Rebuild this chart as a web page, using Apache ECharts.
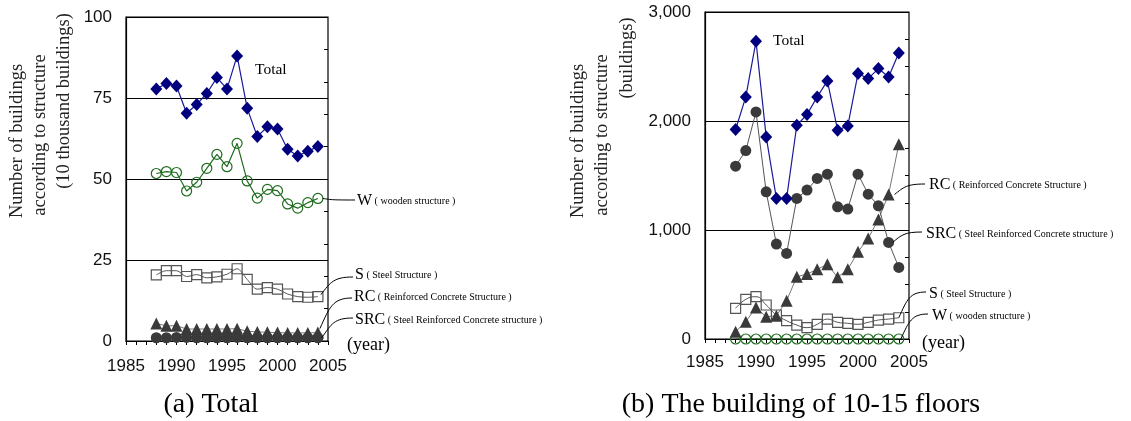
<!DOCTYPE html>
<html><head><meta charset="utf-8">
<script src="https://cdn.jsdelivr.net/npm/echarts@6/dist/echarts.min.js"></script>
<style>html,body{margin:0;padding:0;background:#fff}#c{width:1131px;height:421px}</style>
</head><body><div id="c"></div>
<script>
// ---- data ----
const years = [1988,1989,1990,1991,1992,1993,1994,1995,1996,1997,1998,1999,2000,2001,2002,2003,2004];
// (a) Total, 10 thousand buildings
const aTotal = [77.8,79.5,78.7,70.3,73.0,76.4,81.3,77.8,88.0,71.8,63.1,66.1,65.4,59.2,57.1,58.6,60.0];
const aW     = [51.7,52.3,52.0,46.3,49.0,53.3,57.6,53.8,61.0,49.4,44.1,46.8,46.4,42.3,41.0,42.7,44.0];
const aS     = [20.4,21.7,21.7,19.9,20.5,19.5,19.8,20.6,22.3,19.0,16.0,16.5,16.0,14.5,13.7,13.5,13.7];
const aRC    = [5.4,4.7,4.7,3.7,3.7,3.7,3.7,3.7,3.8,3.0,2.8,2.7,2.6,2.5,2.5,2.5,2.6];
const aSRC   = [1.0,1.0,1.1,1.1,1.0,1.0,1.0,1.0,1.1,1.0,1.0,1.0,1.0,1.0,1.0,1.0,1.0];
// (b) 10-15 floors, buildings
const bTotal = [1922,2221,2731,1854,1290,1290,1961,2059,2221,2368,1916,1955,2435,2389,2481,2404,2624];
const bSRC   = [1586,1729,2083,1350,871,785,1290,1366,1473,1512,1213,1192,1512,1329,1222,886,657];
const bRC    = [67,159,290,204,214,351,571,596,639,685,566,639,800,923,1097,1326,1787];
const bS     = [281,364,388,312,220,168,128,104,135,183,153,144,135,153,174,183,195];
const bW     = [0,0,0,0,0,0,0,0,0,0,0,0,0,0,0,0,0];
const xTicks = [1985,1990,1995,2000,2005];
const aYTicks = [0,25,50,75,100];
const bYTicks = [0,1000,2000,3000];

const pair = arr => arr.map((v,i)=>[years[i], v]);
const SERIF = '"Liberation Serif", "Times New Roman", serif';
const SANS = '"Liberation Sans", Arial, sans-serif';

const chart = echarts.init(document.getElementById('c'), null, {renderer:'canvas'});

function xMain(gi, margin){
  return {gridIndex:gi, type:'value', min:xTicks[0], max:xTicks[xTicks.length-1], interval:5,
    axisLine:{show:true, lineStyle:{color:'#000', width:1.2}},
    axisTick:{show:false}, splitLine:{show:false},
    axisLabel:{fontFamily:SANS, fontSize:17, color:'#111', margin:margin, formatter:v=>String(v)}};
}
function xTick(gi){
  return {gridIndex:gi, type:'value', min:xTicks[0], max:xTicks[xTicks.length-1], interval:1,
    axisLine:{show:false}, axisLabel:{show:false}, splitLine:{show:false},
    axisTick:{show:true, inside:true, length:4, lineStyle:{color:'#000'}}};
}
function yMain(gi, ticks, fmt){
  return {gridIndex:gi, type:'value', min:ticks[0], max:ticks[ticks.length-1], interval:ticks[1]-ticks[0],
    axisLine:{show:true, lineStyle:{color:'#000', width:1.2}}, axisTick:{show:false},
    splitLine:{show:true, lineStyle:{color:'#000', width:1}},
    axisLabel:{fontFamily:SANS, fontSize:17, color:'#111', margin:14, formatter:fmt}};
}
function yTick(gi, ticks, step){
  return {gridIndex:gi, type:'value', min:ticks[0], max:ticks[ticks.length-1], interval:step,
    axisLine:{show:false}, axisLabel:{show:false}, splitLine:{show:false},
    axisTick:{show:true, inside:true, length:4, lineStyle:{color:'#000'}}};
}

function ser(name, data, gi, opt){
  return Object.assign({name, type:'line', data:pair(data), xAxisIndex:gi*2, yAxisIndex:gi*2,
    silent:true, animation:false, z:3}, opt);
}
const stTotal = {symbol:'diamond', symbolSize:[12,13], itemStyle:{color:'#00007f'}, lineStyle:{color:'#1a1a9a', width:1.2}, z:5};
const stW = {symbol:'circle', symbolSize:10, itemStyle:{color:'rgba(255,255,255,0)', borderColor:'#1f6b1f', borderWidth:1.2}, lineStyle:{color:'#1f6b1f', width:1.2}};
const stS = {symbol:'rect', symbolSize:10, itemStyle:{color:'rgba(255,255,255,0)', borderColor:'#555', borderWidth:1.2}, lineStyle:{color:'#555', width:1}};
const stRC = {symbol:'triangle', symbolSize:[12,12], itemStyle:{color:'#3a3a3a'}, lineStyle:{color:'#777', width:1}};
const stSRC = {symbol:'circle', symbolSize:11, itemStyle:{color:'#3a3a3a'}, lineStyle:{color:'#555', width:1}};

const option = {
  animation:false,
  backgroundColor:'#fff',
  grid:[
    {left:126, top:17, width:202, height:324, show:true, borderColor:'#000', borderWidth:1.2, backgroundColor:'transparent'},
    {left:705, top:12, width:204, height:327, show:true, borderColor:'#000', borderWidth:1.2, backgroundColor:'transparent'}
  ],
  xAxis:[xMain(0,17), xTick(0), xMain(1,15), xTick(1)],
  yAxis:[yMain(0, aYTicks, v=>String(v)), yTick(0, aYTicks, 10),
         yMain(1, bYTicks, v=>v.toLocaleString('en-US')), yTick(1, bYTicks, 250)],
  series:[
    ser('W', aW, 0, stW),
    ser('S', aS, 0, Object.assign({}, stS, {smooth:0.3})),
    ser('RC', aRC, 0, stRC),
    ser('SRC', aSRC, 0, stSRC),
    ser('Total', aTotal, 0, stTotal),
    ser('W', bW, 1, stW),
    ser('S', bS, 1, Object.assign({}, stS, {smooth:0.5})),
    ser('RC', bRC, 1, stRC),
    ser('SRC', bSRC, 1, stSRC),
    ser('Total', bTotal, 1, stTotal)
  ]
};
chart.setOption(option);

// ---- annotations ----
function px(gi, x, y){ return chart.convertToPixel({xAxisIndex:gi*2, yAxisIndex:gi*2}, [x, y]); }
function leader(p, ex, ey, dx, dy){
  const sx = p[0]+dx, sy = p[1]+dy;
  return {type:'bezierCurve', silent:true, z:10,
    shape:{x1:sx, y1:sy, x2:ex, y2:ey, cpx1:sx+(ex-sx)*0.25, cpy1:ey+(sy-ey)*0.1, cpx2:sx+(ex-sx)*0.35, cpy2:ey},
    style:{stroke:'#000', lineWidth:1, fill:null}};
}
function leader2(p, ex, ey, dx, dy){
  const sx = p[0]+dx, sy = p[1]+dy;
  return {type:'bezierCurve', silent:true, z:10,
    shape:{x1:sx, y1:sy, x2:ex, y2:ey, cpx1:sx+(ex-sx)*0.3, cpy1:sy-(sy-ey)*0.7, cpx2:sx+(ex-sx)*0.4, cpy2:ey},
    style:{stroke:'#000', lineWidth:1, fill:null}};
}
function label(x, y, code, desc){
  return {type:'text', silent:true, z:10, x:x, y:y,
    style:{text:'{b|'+code+'}{s| ( '+desc+' )}', verticalAlign:'middle', align:'left',
      rich:{b:{fontFamily:SERIF, fontSize:16, fill:'#000'}, s:{fontFamily:SERIF, fontSize:10, fill:'#000'}}}};
}
function plain(x, y, t, size, align){
  return {type:'text', silent:true, z:10, x:x, y:y,
    style:{text:t, fontFamily:SERIF, fontSize:size, fill:'#000', align:align||'left', verticalAlign:'middle'}};
}
function vtitle(x, y, t){
  return {type:'text', silent:true, z:10, x:x, y:y, rotation:Math.PI/2,
    style:{text:t, fontFamily:SERIF, fontSize:18.5, fill:'#222', align:'center', verticalAlign:'middle'}};
}
const last = years.length-1;
const g = [];
// left
g.push(vtitle(17,141,'Number of buildings'));
g.push(vtitle(40,135,'according to structure'));
g.push(vtitle(64,101,'(10 thousand buildings)'));
g.push(plain(255,70,'Total',15.5));
g.push(label(357,201,'W','wooden structure'));
g.push(label(355,275,'S','Steel Structure'));
g.push(label(354,297,'RC','Reinforced Concrete Structure'));
g.push(label(355,320,'SRC','Steel Reinforced Concrete structure'));
g.push(plain(347,345,'(year)',18));
g.push(leader(px(0, years[last], aW[last]), 355, 200, 5, 0));
g.push(leader2(px(0, years[last], aS[last]), 353, 277, 3, -2));
g.push(leader2(px(0, years[last], aRC[last]), 352, 298, 2, -4));
g.push(leader2(px(0, years[last], aSRC[last]), 353, 318, 4, 0));
g.push(plain(211,405,'(a) Total',28,'center'));
// right
g.push(vtitle(578,141,'Number of buildings'));
g.push(vtitle(602,135,'according to structure'));
g.push(vtitle(627,58,'(buildings)'));
g.push(plain(773,41,'Total',15.5));
g.push(label(929,185,'RC','Reinforced Concrete Structure'));
g.push(label(926,234,'SRC','Steel Reinforced Concrete structure'));
g.push(label(929,294,'S','Steel Structure'));
g.push(label(932,316,'W','wooden structure'));
g.push(plain(922,343,'(year)',18));
g.push(leader2(px(1, years[last-1], bRC[last-1]), 925, 184, 6, 0));
g.push(leader2(px(1, years[last-1], bSRC[last-1]), 922, 232, 4, 0));
g.push(leader2(px(1, years[last], bS[last]), 926, 292, 0, 0));
g.push(leader2(px(1, years[last], bW[last]), 928, 314, 2, 0));
g.push(plain(801,405,'(b) The building of 10-15 floors',28,'center'));
chart.setOption({graphic:g});
</script>
</body></html>
